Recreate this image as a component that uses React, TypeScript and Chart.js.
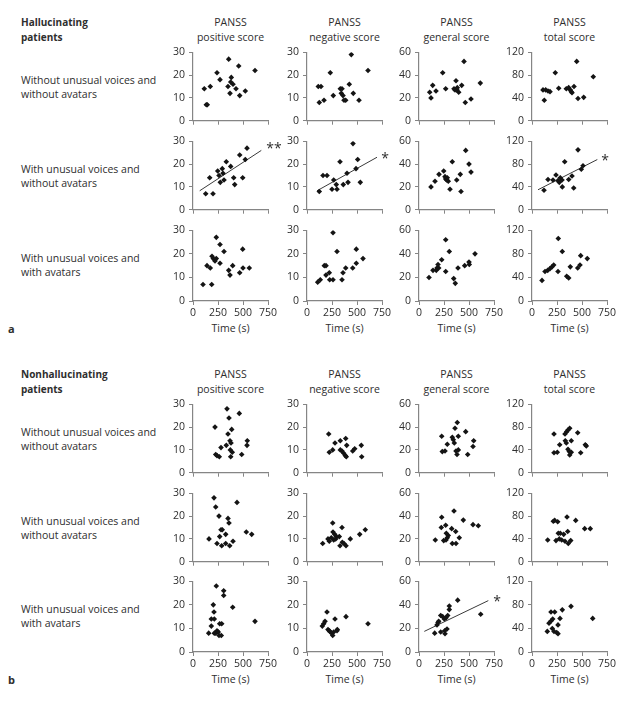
import React, { useEffect, useRef } from 'react';
import { Chart, registerables } from 'chart.js';
Chart.register(...registerables);

// ---------- DATA ----------
const scoreNames = ['positive score', 'negative score', 'general score', 'total score'];
const scoreMax = [30, 30, 60, 120];
const timeTicks = [0, 250, 500, 750];
const rowLabels = [
  ['Without unusual voices and', 'without avatars'],
  ['With unusual voices and', 'without avatars'],
  ['With unusual voices and', 'with avatars'],
];

// Panel a: hallucinating patients
// row 1: without unusual voices and without avatars
const a1PosTime = [133, 143, 113, 173, 240, 270, 357, 350, 383, 377, 400, 370, 430, 457, 467, 523, 620];
const a1PosScore = [7, 7, 14, 15, 21, 18, 27, 15, 19, 17, 16, 12, 14, 24, 11, 13, 22];
const a1NegTime = [113, 140, 123, 170, 233, 263, 333, 350, 343, 360, 370, 387, 443, 423, 463, 520, 610];
const a1NegScore = [15, 15, 8, 9, 21, 11, 14, 14, 12, 11, 9, 9, 29, 16, 12, 9, 22];
const a1GenTime = [107, 137, 120, 170, 237, 267, 370, 350, 360, 380, 397, 383, 427, 450, 463, 520, 613];
const a1GenScore = [25, 31, 20, 26, 42, 28, 35, 28, 27, 27, 25, 29, 31, 52, 16, 19, 33];
const a1TotTime = [110, 137, 160, 180, 123, 233, 267, 343, 367, 383, 393, 400, 420, 447, 460, 517, 613];
const a1TotScore = [54, 54, 52, 51, 36, 84, 57, 56, 58, 54, 51, 49, 60, 104, 39, 41, 77];
// row 2: with unusual voices and without avatars
const a2PosTime = [127, 200, 167, 247, 260, 293, 300, 273, 310, 333, 377, 407, 417, 467, 497, 523, 540];
const a2PosScore = [7, 7, 14, 17, 15, 18, 16, 12, 13, 21, 19, 14, 11, 24, 14, 22, 27];
const a2PosFitTime = [67, 683];
const a2PosFitScore = [8.3, 26];
const a2NegTime = [123, 160, 200, 267, 250, 300, 293, 330, 363, 400, 410, 460, 490, 507, 533];
const a2NegScore = [8, 15, 15, 13, 9, 9, 11, 21, 11, 16, 12, 29, 18, 22, 12];
const a2NegFitTime = [100, 700];
const a2NegFitScore = [8.3, 23];
const a2GenTime = [120, 160, 200, 247, 260, 267, 277, 283, 293, 310, 333, 377, 413, 420, 467, 500, 520];
const a2GenScore = [20, 25, 31, 34, 29, 27, 26, 28, 25, 18, 42, 26, 31, 16, 52, 40, 33];
const a2TotTime = [120, 160, 210, 240, 260, 283, 273, 300, 303, 327, 367, 400, 417, 460, 493, 510];
const a2TotScore = [34, 53, 52, 61, 51, 56, 48, 52, 40, 84, 53, 59, 38, 105, 71, 77];
const a2TotFitTime = [60, 653];
const a2TotFitScore = [35, 88];
// row 3: with unusual voices and with avatars
const a3PosTime = [100, 187, 140, 173, 190, 203, 220, 233, 233, 270, 270, 310, 357, 370, 397, 467, 497, 500, 563];
const a3PosScore = [7, 7, 15, 14, 19, 18, 17, 18, 27, 24, 16, 21, 13, 11, 15, 12, 22, 14, 14];
const a3NegTime = [107, 133, 173, 190, 190, 223, 227, 260, 260, 300, 350, 360, 387, 457, 493, 493, 560];
const a3NegScore = [8, 9, 15, 15, 11, 12, 9, 9, 29, 21, 9, 12, 14, 14, 22, 16, 18];
const a3GenTime = [100, 140, 173, 180, 190, 197, 227, 267, 267, 303, 390, 347, 363, 457, 500, 503, 560];
const a3GenScore = [20, 26, 26, 28, 31, 28, 35, 52, 25, 42, 28, 19, 15, 30, 33, 31, 40];
const a3TotTime = [100, 130, 157, 180, 200, 217, 260, 263, 303, 347, 367, 383, 457, 480, 487, 553];
const a3TotScore = [35, 50, 52, 55, 58, 61, 50, 106, 84, 42, 39, 58, 56, 61, 77, 72];

// Panel b: nonhallucinating patients
const b1PosTime = [220, 227, 240, 263, 280, 333, 340, 350, 360, 370, 380, 387, 373, 393, 377, 463, 487, 543, 540];
const b1PosScore = [20, 8, 7.5, 7, 11, 12, 28, 17, 24, 14, 13, 19, 10, 9, 7, 26, 8, 14, 12];
const b1NegTime = [217, 223, 257, 280, 333, 333, 350, 367, 383, 393, 387, 397, 457, 477, 543, 547];
const b1NegScore = [17, 9, 10, 13, 14, 10, 9.5, 8.5, 7.5, 7, 15, 12, 9.5, 10.5, 12, 7];
const b1GenTime = [227, 233, 260, 283, 333, 343, 353, 360, 383, 393, 370, 393, 380, 467, 487, 547, 540];
const b1GenScore = [32, 18.5, 19, 25, 31, 29, 26, 39, 44, 32, 19, 20, 16, 36, 16, 28, 23];
const b1TotTime = [220, 220, 253, 277, 330, 347, 360, 377, 333, 343, 393, 360, 373, 377, 393, 457, 487, 533, 543];
const b1TotScore = [68, 35, 36, 49, 68, 72, 75, 78, 56, 52, 56, 41, 37, 31, 36, 70, 35, 49, 47];

const b2PosTime = [160, 210, 227, 240, 260, 267, 280, 293, 287, 327, 327, 350, 360, 367, 400, 440, 533, 587];
const b2PosScore = [10, 28, 24, 8, 20, 11, 14, 14, 7, 8, 12, 19, 17, 7, 9, 26, 13, 12];
const b2NegTime = [157, 210, 223, 243, 257, 260, 277, 293, 267, 287, 323, 330, 350, 353, 370, 390, 433, 527, 583];
const b2NegScore = [8, 10, 9, 10.5, 17, 13, 12, 11, 9.5, 10, 11, 7, 15, 8.5, 8, 7, 10, 12, 14];
const b2GenTime = [163, 227, 223, 267, 247, 270, 273, 293, 283, 327, 350, 367, 333, 370, 403, 443, 540, 593];
const b2GenScore = [19, 39, 30, 32, 18.5, 19, 25, 23, 21, 29, 44.5, 26.5, 16, 16, 21, 36.5, 32.5, 31.5];
const b2TotTime = [157, 213, 227, 257, 240, 263, 283, 317, 273, 297, 330, 363, 387, 350, 357, 437, 527, 583];
const b2TotScore = [38, 71, 72.5, 70, 37, 50, 50, 48, 40, 38, 36, 32, 37, 78.5, 53, 72.5, 58, 58];

const b3PosTime = [157, 183, 183, 213, 203, 210, 213, 227, 233, 240, 253, 260, 267, 287, 283, 307, 307, 397, 620];
const b3PosScore = [8, 11, 14, 14, 20, 17, 8, 8, 28, 9, 8.5, 7, 12, 12, 7, 26, 24, 19, 13];
const b3NegTime = [153, 167, 180, 200, 210, 223, 233, 247, 257, 267, 280, 300, 303, 390, 610];
const b3NegScore = [11, 12, 13, 17, 9.5, 9, 8.5, 8, 7, 8.5, 14, 9, 9.5, 15, 12];
const b3GenTime = [157, 180, 190, 197, 217, 237, 217, 257, 253, 270, 260, 280, 287, 303, 303, 387, 617];
const b3GenScore = [16, 23, 25, 26, 31, 30, 17, 18, 28, 29, 15.5, 19.5, 31, 36, 39, 44, 32];
const b3GenFitTime = [53, 693];
const b3GenFitScore = [17.5, 43.6];
const b3TotTime = [153, 170, 190, 193, 207, 203, 227, 220, 247, 260, 260, 280, 303, 390, 607];
const b3TotScore = [35, 49, 68, 53, 56, 40, 68, 35, 33, 46, 31, 57, 71.5, 77.5, 57];

// ---------- LAYOUT ----------
const FONT = "'Open Sans', 'Noto Sans', sans-serif";
const TEXT = '#2e2e2e';
const AXIS = '#858585';
const COL_X = [193, 307, 419, 532];
const ROW_TOP = [50, 139, 228, 402, 491, 579];
const PW = 75;
const PH = 73;
const YW = 30;
const PT = 8;
const PR = 14;

type PlotDef = { row: number; col: number; t: number[]; s: number[]; ft?: number[]; fs?: number[] };
const plots: PlotDef[] = [
  { row: 0, col: 0, t: a1PosTime, s: a1PosScore },
  { row: 0, col: 1, t: a1NegTime, s: a1NegScore },
  { row: 0, col: 2, t: a1GenTime, s: a1GenScore },
  { row: 0, col: 3, t: a1TotTime, s: a1TotScore },
  { row: 1, col: 0, t: a2PosTime, s: a2PosScore, ft: a2PosFitTime, fs: a2PosFitScore },
  { row: 1, col: 1, t: a2NegTime, s: a2NegScore, ft: a2NegFitTime, fs: a2NegFitScore },
  { row: 1, col: 2, t: a2GenTime, s: a2GenScore },
  { row: 1, col: 3, t: a2TotTime, s: a2TotScore, ft: a2TotFitTime, fs: a2TotFitScore },
  { row: 2, col: 0, t: a3PosTime, s: a3PosScore },
  { row: 2, col: 1, t: a3NegTime, s: a3NegScore },
  { row: 2, col: 2, t: a3GenTime, s: a3GenScore },
  { row: 2, col: 3, t: a3TotTime, s: a3TotScore },
  { row: 3, col: 0, t: b1PosTime, s: b1PosScore },
  { row: 3, col: 1, t: b1NegTime, s: b1NegScore },
  { row: 3, col: 2, t: b1GenTime, s: b1GenScore },
  { row: 3, col: 3, t: b1TotTime, s: b1TotScore },
  { row: 4, col: 0, t: b2PosTime, s: b2PosScore },
  { row: 4, col: 1, t: b2NegTime, s: b2NegScore },
  { row: 4, col: 2, t: b2GenTime, s: b2GenScore },
  { row: 4, col: 3, t: b2TotTime, s: b2TotScore },
  { row: 5, col: 0, t: b3PosTime, s: b3PosScore },
  { row: 5, col: 1, t: b3NegTime, s: b3NegScore },
  { row: 5, col: 2, t: b3GenTime, s: b3GenScore, ft: b3GenFitTime, fs: b3GenFitScore },
  { row: 5, col: 3, t: b3TotTime, s: b3TotScore },
];

function Plot({ p }: { p: PlotDef }) {
  const ref = useRef<HTMLCanvasElement>(null);
  const labels = p.row === 2 || p.row === 5;
  const xh = labels ? 22 : 8;
  const cw = YW + PW + PR;
  const chh = PT + PH + xh;
  const yMax = scoreMax[p.col];
  useEffect(() => {
    const datasets: any[] = [
      {
        data: p.t.map((t, i) => ({ x: t, y: p.s[i] })),
        pointStyle: 'rectRot',
        pointRadius: 2.8,
        backgroundColor: '#141414',
        borderWidth: 0,
      },
    ];
    if (p.ft && p.fs) {
      datasets.push({
        data: p.ft.map((t, i) => ({ x: t, y: p.fs![i] })),
        showLine: true,
        pointRadius: 0,
        borderColor: '#3a3a3a',
        borderWidth: 1,
        fill: false,
      });
    }
    const tickFont = { family: FONT, size: 10.5 };
    const chart = new Chart(ref.current!, {
      type: 'scatter',
      data: { datasets },
      options: {
        animation: false,
        responsive: false,
        events: [],
        plugins: { legend: { display: false }, tooltip: { enabled: false } },
        layout: { padding: { top: PT, right: PR, left: 0, bottom: 0 } },
        scales: {
          x: {
            type: 'linear',
            min: 0,
            max: 750,
            afterBuildTicks: (s: any) => {
              s.ticks = timeTicks.map((v) => ({ value: v }));
            },
            ticks: { display: labels, color: TEXT, font: tickFont, padding: 2, maxRotation: 0, autoSkip: false },
            grid: { drawOnChartArea: false, drawTicks: true, tickLength: 4, color: AXIS, lineWidth: 1 },
            border: { color: AXIS, width: 1.2 },
            afterFit: (s: any) => {
              s.height = xh;
            },
          },
          y: {
            type: 'linear',
            min: 0,
            max: yMax,
            ticks: { stepSize: yMax / 3, color: TEXT, font: tickFont, padding: 4 },
            grid: { drawOnChartArea: false, drawTicks: true, tickLength: 4, color: AXIS, lineWidth: 1 },
            border: { color: AXIS, width: 1.2 },
            afterFit: (s: any) => {
              s.width = YW;
            },
          },
        },
      } as any,
    });
    return () => chart.destroy();
  }, []);
  return (
    <canvas
      ref={ref}
      width={cw}
      height={chh}
      style={{
        position: 'absolute',
        left: COL_X[p.col] - YW,
        top: ROW_TOP[p.row] - PT,
        width: cw,
        height: chh,
      }}
    />
  );
}

function Txt({ x, y, children, center = true, bold = false, size = 10.5 }: any) {
  return (
    <div
      style={{
        position: 'absolute',
        left: x,
        top: y,
        transform: center ? 'translate(-50%, -50%)' : 'translate(0, -50%)',
        whiteSpace: 'nowrap',
        fontFamily: FONT,
        fontSize: size,
        fontWeight: bold ? 700 : 400,
        color: TEXT,
        lineHeight: 1,
      }}
    >
      {children}
    </div>
  );
}

export default function App() {
  const items: any[] = [];
  const panels = [
    { title: ['Hallucinating', 'patients'], hy: 22, rows: [0, 1, 2], letter: 'a' },
    { title: ['Nonhallucinating', 'patients'], hy: 374, rows: [3, 4, 5], letter: 'b' },
  ];
  panels.forEach((pn, pi) => {
    items.push(<Txt key={`t0${pi}`} x={21} y={pn.hy} center={false} bold size={10}>{pn.title[0]}</Txt>);
    items.push(<Txt key={`t1${pi}`} x={21} y={pn.hy + 15} center={false} bold size={10}>{pn.title[1]}</Txt>);
    COL_X.forEach((cx, ci) => {
      items.push(<Txt key={`h0${pi}${ci}`} x={cx + PW / 2} y={pn.hy}>PANSS</Txt>);
      items.push(<Txt key={`h1${pi}${ci}`} x={cx + PW / 2} y={pn.hy + 15}>{scoreNames[ci]}</Txt>);
      const bottom = ROW_TOP[pn.rows[2]] + PH;
      items.push(<Txt key={`ax${pi}${ci}`} x={cx + PW / 2} y={bottom + 27}>Time (s)</Txt>);
    });
    pn.rows.forEach((r, ri) => {
      const cy = ROW_TOP[r] + PH / 2;
      items.push(<Txt key={`r0${r}`} x={21} y={cy - 7} center={false}>{rowLabels[ri][0]}</Txt>);
      items.push(<Txt key={`r1${r}`} x={21} y={cy + 7} center={false}>{rowLabels[ri][1]}</Txt>);
    });
    const bottom = ROW_TOP[pn.rows[2]] + PH;
    items.push(<Txt key={`l${pi}`} x={8} y={bottom + 27} center={false} bold size={11}>{pn.letter}</Txt>);
  });
  return (
    <div
      style={{
        position: 'absolute',
        left: 0,
        top: 0,
        width: 635,
        height: 702,
        background: '#fff',
        overflow: 'hidden',
      }}
    >
      {items}
      {plots.map((p, i) => (
        <Plot key={i} p={p} />
      ))}
      <Txt x={274} y={148} size={14}>**</Txt>
      <Txt x={385} y={158} size={14}>*</Txt>
      <Txt x={605} y={160} size={14}>*</Txt>
      <Txt x={497} y={601} size={14}>*</Txt>
    </div>
  );
}
